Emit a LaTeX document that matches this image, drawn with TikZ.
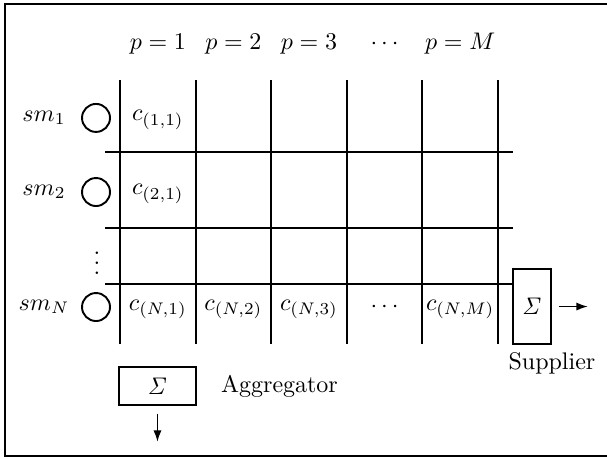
\documentclass[tikz,border=0pt]{standalone}
\usetikzlibrary{arrows.meta,positioning}
\tikzset{
  gridline/.style={thick},
  meter/.style={draw,thick,circle,minimum size=0.41cm,inner sep=0pt},
  sumbox/.style={draw,thick,inner sep=0pt},
  flow/.style={-{Latex[length=1.7mm,width=1.2mm]},thick}
}

\begin{document}
\begin{tikzpicture}
  \useasboundingbox (0,0) rectangle (8.889,6.707);
  \draw[thick] (0.073,0.03) rectangle (9.0,6.648);
  % grid of the cost table
  \foreach \x in {1.757,2.864,3.971,5.078,6.185,7.292}
    \draw[gridline] (\x,1.669) -- (\x,5.535);
  \foreach \y in {4.481,3.368,2.548}
    \draw[gridline] (1.538,\y) -- (7.512,\y);
  % periods
  \node (p1) at (2.311,6.063) {$p=1$};
  \node (p2) at (3.418,6.063) {$p=2$};
  \node (p3) at (4.525,6.063) {$p=3$};
  \node (pdots) at (5.632,6.063) {$\cdots$};
  \node (pM) at (6.739,6.063) {$p=M$};
  % smart meters
  \node (sm1) at (0.644,4.98) {$sm_1$};
  \node (sm2) at (0.644,3.895) {$sm_2$};
  \node (smN) at (0.644,2.211) {$sm_N$};
  \node[meter] (m1) at (1.406,4.98) {};
  \node[meter] (m2) at (1.406,3.895) {};
  \node[meter] (mN) at (1.406,2.211) {};
  \node (mdots) at (1.42,2.958) {$\vdots$};
  % cells
  \node (c11) at (2.311,4.95) {$c_{(1,1)}$};
  \node (c21) at (2.311,3.865) {$c_{(2,1)}$};
  \node (cN1) at (2.311,2.18) {$c_{(N,1)}$};
  \node (cN2) at (3.418,2.18) {$c_{(N,2)}$};
  \node (cN3) at (4.525,2.18) {$c_{(N,3)}$};
  \node (cNdots) at (5.632,2.211) {$\cdots$};
  \node (cNM) at (6.739,2.18) {$c_{(N,M)}$};
  % supplier and aggregator
  \node[sumbox,minimum width=0.557cm,minimum height=1.10cm] (sup) at (7.79,2.218) {$\mathit{\Sigma}$};
  \node (suplabel) at (8.083,1.391) {Supplier};
  \coordinate (supout) at (8.611,2.218);
  \draw[flow,shorten <=0.1cm] (sup) -- (supout);
  \node[sumbox,minimum width=1.127cm,minimum height=0.557cm] (agg) at (2.306,1.054) {$\mathit{\Sigma}$};
  \node[right=0.23cm of agg] (agglabel) {Aggregator};
  \coordinate (aggout) at (2.306,0.234);
  \draw[flow,shorten <=0.117cm] (agg) -- (aggout);
\end{tikzpicture}
\end{document}
